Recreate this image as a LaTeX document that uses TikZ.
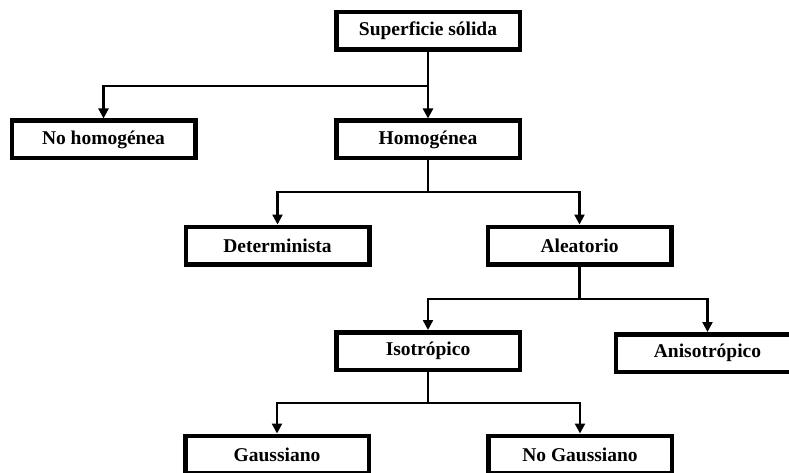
\documentclass[tikz,border=0pt]{standalone}
\usepackage{fontspec}
\setmainfont{Liberation Serif}
\usetikzlibrary{arrows.meta}
\begin{document}
\begin{tikzpicture}[x=1pt,y=-1pt,
  box/.style={draw=black,line width=4.5pt,fill=white,minimum width=183.5pt,
    minimum height=37.5pt,inner sep=0pt,
    font=\fontsize{19.5}{22}\selectfont\bfseries},
  link/.style={line width=2.3pt,-{Triangle[length=10pt,width=10pt]}},
  stem/.style={line width=2.3pt}]
  \clip (0,0) rectangle (789,473);
  \fill[white] (0,0) rectangle (789,473);

  % boxes of the classification tree
  \node[box] (sup)   at (428,31)     {Superficie sólida};
  \node[box] (nohom) at (103.5,139.5){No homogénea};
  \node[box] (hom)   at (428,139.5)  {Homogénea};
  \node[box] (det)   at (277.5,245.5){Determinista};
  \node[box] (ale)   at (579.5,245.5){Aleatorio};
  \node[box] (iso)   at (428,351)    {Isotrópico};
  \node[box] (ani)   at (707.5,353)  {Anisotrópico};
  \node[box] (gau)   at (277,454.5)  {Gaussiano};
  \node[box] (nog)   at (580,454.5)  {No Gaussiano};

  % heights of the horizontal branch lines
  \coordinate (b1) at (0,86);
  \coordinate (b2) at (0,192);
  \coordinate (b3) at (0,299);
  \coordinate (b4) at (0,403);

  % connectors
  \draw[link] (sup.south) -- (hom.north);
  \draw[link] (sup.south |- b1) -| (nohom.north);

  \draw[stem] (hom.south) -- (hom.south |- b2);
  \draw[link] (hom.south |- b2) -| (det.north);
  \draw[link] (hom.south |- b2) -| (ale.north);

  \draw[stem] (ale.south) -- (ale.south |- b3);
  \draw[link] (ale.south |- b3) -| (iso.north);
  \draw[link] (ale.south |- b3) -| (ani.north);

  \draw[stem] (iso.south) -- (iso.south |- b4);
  \draw[link] (iso.south |- b4) -| (gau.north);
  \draw[link] (iso.south |- b4) -| (nog.north);
\end{tikzpicture}
\end{document}
